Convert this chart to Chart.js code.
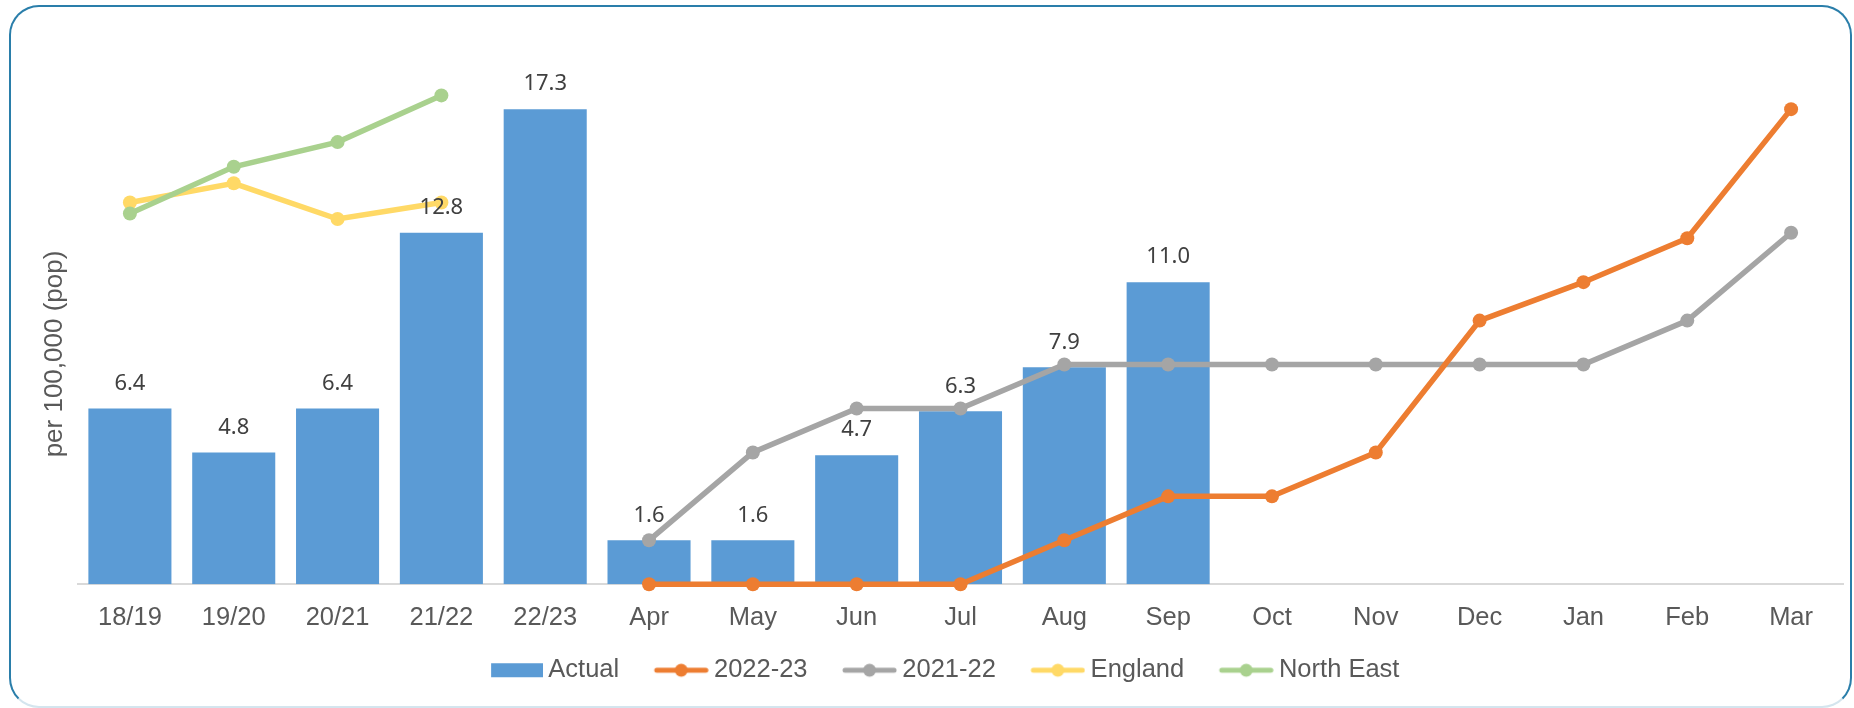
<!DOCTYPE html>
<html lang="en">
<head>
  <meta charset="UTF-8">
  <title>Rate per 100,000 (pop)</title>
  <style>
    html, body { margin: 0; padding: 0; background: #fff; }
    #wrap { position: relative; width: 1854px; height: 708px; overflow: hidden; }
    #frame {
      position: absolute; left: 9px; top: 5px; width: 1843px; height: 703px;
      box-sizing: border-box; border: 2px solid #2a7eaa; border-bottom-color: #d4e5ee;
      border-radius: 30px; pointer-events: none;
    }
    canvas { position: absolute; left: 0; top: 0; }
  </style>
</head>
<body>
<div id="wrap">
  <canvas id="myChart" width="1854" height="708"></canvas>
  <div id="frame"></div>
</div>
<script src="https://cdn.jsdelivr.net/npm/chart.js"></script>
<script>
  const categories = ['18/19', '19/20', '20/21', '21/22', '22/23', 'Apr', 'May', 'Jun', 'Jul', 'Aug', 'Sep', 'Oct', 'Nov', 'Dec', 'Jan', 'Feb', 'Mar'];
  const actual    = [6.4, 4.8, 6.4, 12.8, 17.3, 1.6, 1.6, 4.7, 6.3, 7.9, 11.0, null, null, null, null, null, null];
  const year2223  = [null, null, null, null, null, 0, 0, 0, 0, 1.6, 3.2, 3.2, 4.8, 9.6, 11.0, 12.6, 17.3];
  const year2122  = [null, null, null, null, null, 1.6, 4.8, 6.4, 6.4, 8.0, 8.0, 8.0, 8.0, 8.0, 8.0, 9.6, 12.8];
  const england   = [13.9, 14.6, 13.3, 13.9, null, null, null, null, null, null, null, null, null, null, null, null, null];
  const northEast = [13.5, 15.2, 16.1, 17.8, null, null, null, null, null, null, null, null, null, null, null, null, null];

  const BLUE = '#5b9bd5', ORANGE = '#ed7d31', GREY = '#a5a5a5', YELLOW = '#ffd966', GREEN = '#a9d18e';
  const FONT = 'Liberation Sans';

  // legend icons: drawn right-aligned in a wider canvas so the gap to the text is small
  function lineIcon(color) {
    const c = document.createElement('canvas');
    c.width = 70; c.height = 16;
    const g = c.getContext('2d');
    g.strokeStyle = color; g.lineWidth = 5; g.lineCap = 'round';
    g.beginPath(); g.moveTo(18, 8); g.lineTo(67, 8); g.stroke();
    g.fillStyle = color;
    g.beginPath(); g.arc(42.5, 8, 6.5, 0, Math.PI * 2); g.fill();
    return c;
  }
  function boxIcon(color) {
    const c = document.createElement('canvas');
    c.width = 70; c.height = 16;
    const g = c.getContext('2d');
    g.fillStyle = color;
    g.fillRect(18, 1, 52, 14);
    return c;
  }
  const icons = [boxIcon(BLUE), lineIcon(ORANGE), lineIcon(GREY), lineIcon(YELLOW), lineIcon(GREEN)];

  const barLabels = {
    id: 'barLabels',
    afterDatasetsDraw(chart) {
      const ctx = chart.ctx;
      const meta = chart.getDatasetMeta(0);
      ctx.save();
      ctx.font = '22px "Noto Sans"';
      ctx.fillStyle = '#404040';
      ctx.textAlign = 'center';
      ctx.textBaseline = 'middle';
      meta.data.forEach((bar, i) => {
        if (actual[i] == null) return;
        ctx.fillText(actual[i].toFixed(1), bar.x, bar.y - 25);
      });
      ctx.restore();
    }
  };

  const yTitle = {
    id: 'yTitle',
    afterDraw(chart) {
      const ctx = chart.ctx;
      ctx.save();
      ctx.translate(55, 354);
      ctx.rotate(-Math.PI / 2);
      ctx.font = '26px "' + FONT + '"';
      ctx.fillStyle = '#595959';
      ctx.textAlign = 'center';
      ctx.textBaseline = 'middle';
      ctx.fillText('per 100,000 (pop)', 0, 0);
      ctx.restore();
    }
  };

  function lineSet(label, data, color, order) {
    return {
      type: 'line', label: label, data: data, order: order,
      borderColor: color, backgroundColor: color, borderWidth: 5.5,
      pointRadius: 7, pointBorderWidth: 0, pointBackgroundColor: color,
      tension: 0, spanGaps: false, clip: false
    };
  }

  const config = {
    type: 'bar',
    data: {
      labels: categories,
      datasets: [
        { type: 'bar', label: 'Actual', data: actual, order: 10, backgroundColor: BLUE,
          barPercentage: 0.8, categoryPercentage: 1.0 },
        lineSet('2022-23', year2223, ORANGE, 1),
        lineSet('2021-22', year2122, GREY, 2),
        lineSet('England', england, YELLOW, 4),
        lineSet('North East', northEast, GREEN, 3)
      ]
    },
    options: {
      responsive: false,
      animation: false,
      layout: { padding: { left: 37, right: 11, top: 35, bottom: 15 } },
      plugins: {
        tooltip: { enabled: false },
        legend: {
          position: 'bottom',
          labels: {
            usePointStyle: true,
            pointStyleWidth: 55,
            padding: 27,
            color: '#595959',
            font: { family: FONT, size: 25.5 },
            generateLabels: chart => chart.data.datasets.map((ds, i) => ({
              text: ds.label, datasetIndex: i, pointStyle: icons[i], hidden: false,
              fontColor: '#595959', lineWidth: 0, fillStyle: 'transparent', strokeStyle: 'transparent'
            }))
          }
        }
      },
      scales: {
        x: {
          grid: { display: false, drawTicks: false },
          border: { color: '#d9d9d9', width: 2 },
          ticks: { color: '#595959', font: { family: FONT, size: 25.5 }, padding: 18, maxRotation: 0, autoSkip: false },
          afterFit(scale) { scale.height = 46.25; }
        },
        y: {
          min: 0, max: 20,
          grid: { display: false, drawTicks: false },
          border: { display: false },
          ticks: { display: false },
          afterFit(scale) { scale.width = 41; }
        }
      }
    },
    plugins: [barLabels, yTitle]
  };

  const myChart = new Chart(document.getElementById('myChart'), config);
</script>
</body>
</html>
